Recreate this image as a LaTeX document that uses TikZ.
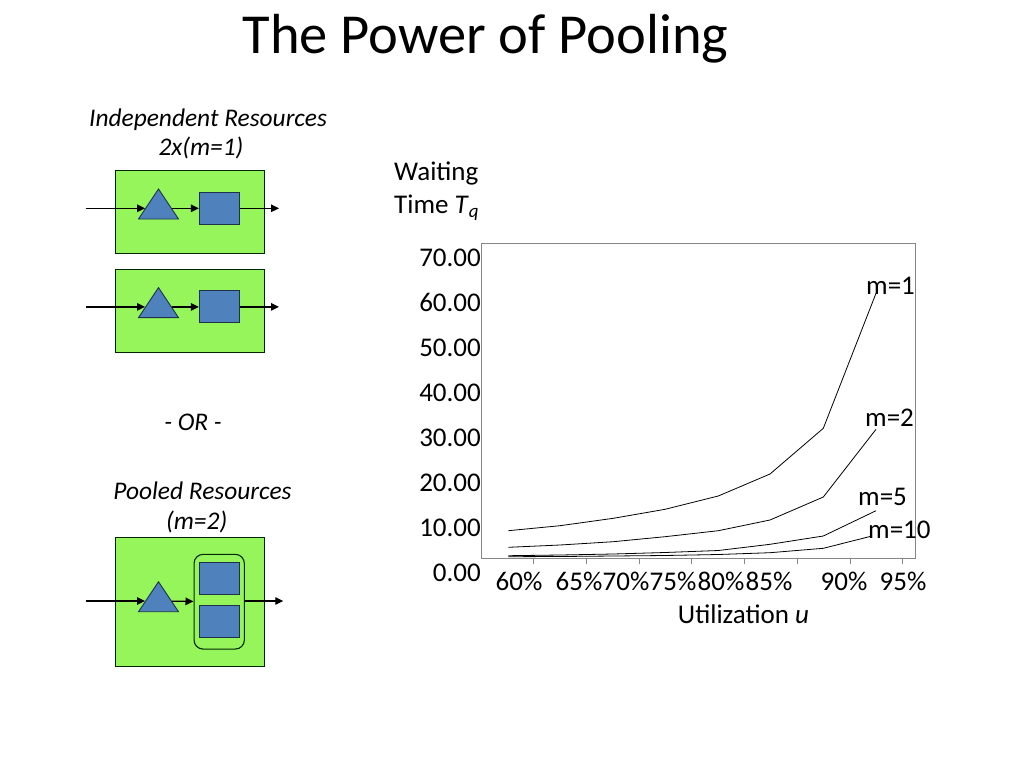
\documentclass[tikz,border=0pt]{standalone}
\usepackage{fontspec}
\setmainfont{Carlito}
\usetikzlibrary{arrows.meta,shapes.geometric}
\definecolor{boxgreen}{RGB}{150,245,90}
\definecolor{shapeblue}{RGB}{79,129,189}
\definecolor{shapeedge}{RGB}{30,50,80}
\definecolor{axisgray}{RGB}{134,134,134}
\begin{document}
\begin{tikzpicture}[x=1pt,y=-1pt,
  resbox/.style={draw=black!85!green, fill=boxgreen, line width=1.1pt, minimum width=148.6pt, inner sep=0pt},
  tri/.style={isosceles triangle, shape border rotate=90, isosceles triangle stretches, minimum width=40pt, minimum height=30pt, inner sep=0pt, draw=shapeedge, fill=shapeblue, line width=0.9pt},
  server/.style={rectangle, draw=shapeedge, fill=shapeblue, line width=0.9pt, minimum width=40pt, minimum height=32pt, inner sep=0pt},
  pool/.style={rectangle, rounded corners=9pt, draw=black!85!green, line width=1.1pt, minimum width=50.3pt, minimum height=94.7pt, inner sep=0pt},
  flow/.style={-{Triangle[length=8pt,width=7.5pt]}, line width=1.3pt, black},
  body/.style={font=\fontsize{27}{32}\selectfont, inner sep=0pt},
  lab/.style={font=\fontsize{25.4}{30}\selectfont\itshape, inner sep=0pt, anchor=base},
  curve/.style={line width=0.8pt, black},
  tick/.style={axisgray, line width=0.8pt}]
\useasboundingbox (0,0) rectangle (1024,768);
\fill[white] (0,0) rectangle (1024,768);

% title
\node[font=\fontsize{56.5}{64}\selectfont, inner sep=0pt, anchor=base] (title) at (485.5,53.3) {The Power of Pooling};

% left side labels
\node[lab] (indep) at (208,126) {Independent Resources};
\node[lab] (twox) at (201,155) {2x(m=1)};
\node[lab] (or) at (193,430) {- OR -};
\node[lab] (pooled) at (202.5,499.5) {Pooled Resources};
\node[lab] (m2lab) at (196.7,529) {(m=2)};

% independent resource 1
\node[resbox, minimum height=82.6pt] (box1) at (190,212) {};
\node[tri] (tri1) at (158.5,208.3) {};
\node[server] (sq1) at (219.3,208.3) {};
\coordinate (in1) at (85.7,208.3);
\coordinate (out1) at (279,208.3);
\draw[flow] (in1) -- (tri1);
\draw[flow] (tri1) -- (sq1);
\draw[flow] (sq1) -- (out1);

% independent resource 2
\node[resbox, minimum height=83.3pt] (box2) at (190,310.7) {};
\node[tri] (tri2) at (158.5,306.9) {};
\node[server] (sq2) at (219.3,306.9) {};
\coordinate (in2) at (85.7,306.9);
\coordinate (out2) at (279,306.9);
\draw[flow] (in2) -- (tri2);
\draw[flow] (tri2) -- (sq2);
\draw[flow] (sq2) -- (out2);

% pooled resources
\node[resbox, minimum height=128.7pt] (box3) at (190,601.7) {};
\node[tri] (tri3) at (158.5,601) {};
\node[pool] (pool3) at (219.2,601.7) {};
\node[server] (sq3a) at (219.3,578.8) {};
\node[server] (sq3b) at (219.3,621.8) {};
\coordinate (in3) at (85.7,601);
\coordinate (out3) at (283.3,601);
\draw[flow] (in3) -- (tri3);
\draw[flow] (tri3) -- (pool3);
\draw[flow] (pool3.east |- out3) -- (out3);

% chart
\node[body, anchor=base west] (wait) at (394,180) {Waiting};
\node[body, anchor=base west] (timeT) at (394,213.5) {Time \textit{T}\textsubscript{\textit{q}}};

\draw[axisgray, line width=0.9pt] (481,243) rectangle (915,558);
\foreach \tx in {533,586.7,639.3,691.7,744.3,797.3,850,902.7}
  \draw[tick] (\tx,558) -- (\tx,563.5);

\foreach \v [count=\i from 0] in {70.00,60.00,50.00,40.00,30.00,20.00,10.00,0.00}
  \node[body, anchor=base east] (y\i) at (481,266.5+45*\i) {\v};

\foreach \lbl/\cx [count=\i] in {60\%/519,65\%/579,70\%/626,75\%/673,80\%/721,85\%/769,90\%/844,95\%/903}
  \node[body, anchor=base] (x\i) at (\cx,590.5) {\lbl};

\node[body, anchor=base] (xtitle) at (743.5,623.5) {Utilization \textit{u}};

% curves
\draw[curve] (508.3,530.7) -- (560,525.7) -- (613.3,518.3) -- (665,509.3) -- (718.3,496) -- (770,474) -- (823.3,428.3) -- (876,293.3);
\draw[curve] (508.3,547.3) -- (560,545) -- (613.3,541.7) -- (665,536.7) -- (718.3,530.7) -- (770,520) -- (823.3,497) -- (876,429.3);
\draw[curve] (508.3,555.7) -- (560,555) -- (613.3,554) -- (665,552.5) -- (718.3,550.5) -- (770,544.3) -- (823.3,536) -- (876,510.7);
\draw[curve] (508.3,556.7) -- (560,556.5) -- (613.3,556) -- (665,555.5) -- (718.3,554.5) -- (770,552.7) -- (823.3,548.3) -- (872,536);

\node[body, anchor=base west] (lm1) at (866,294) {m=1};
\node[body, anchor=base west] (lm2) at (865,426.7) {m=2};
\node[body, anchor=base west] (lm5) at (858,505) {m=5};
\node[body, anchor=base west] (lm10) at (868,538) {m=10};
\end{tikzpicture}
\end{document}
